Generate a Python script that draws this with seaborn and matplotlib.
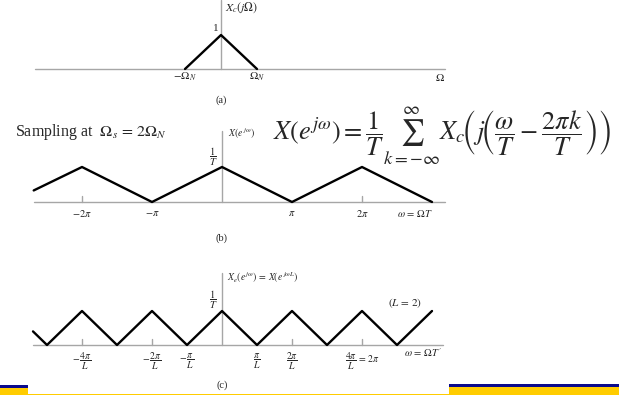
import matplotlib
matplotlib.use("Agg")
import matplotlib.pyplot as plt
from matplotlib.patches import Rectangle
import seaborn as sns

# Spectrum vertices (frequency in units of Omega_N for (a), in units of pi for (b), (c))
omega_a = [-1, 0, 1]
Xc_a = [0, 1, 0]

omega_b = [-2.69, -2, -1, 0, 1, 2, 3]
X_b = [0.33, 1, 0, 1, 0, 1, 0]

omega_c = [-2.7, -2.5, -2, -1.5, -1, -0.5, 0, 0.5, 1, 1.5, 2, 2.5, 3]
X_c = [0.4, 0, 1, 0, 1, 0, 1, 0, 1, 0, 1, 0, 1]

ticks_a = [-1, 1]
ticklabels_a = [r"$-\Omega_N$", r"$\Omega_N$"]

ticks_b = [-2, -1, 1, 2]
ticklabels_b = [r"$-2\pi$", r"$-\pi$", r"$\pi$", r"$2\pi$"]
marked_b = [-2, 2]

ticks_c = [-2, -1, -0.5, 0.5, 1, 2]
ticklabels_c = [r"$-\,\dfrac{4\pi}{L}$", r"$-\,\dfrac{2\pi}{L}$", r"$-\,\dfrac{\pi}{L}$",
                r"$\dfrac{\pi}{L}$", r"$\dfrac{2\pi}{L}$", r"$\dfrac{4\pi}{L}\,=\,2\pi$"]
marked_c = [-2, -1, 1, 2]

sns.set_theme(style="white")
plt.rcParams["font.family"] = ["Liberation Serif", "DejaVu Serif"]
plt.rcParams["mathtext.fontset"] = "stix"

W, H = 619, 395
fig = plt.figure(figsize=(W / 100, H / 100), dpi=100)
fig.patch.set_facecolor("white")

AXIS_C = "#a6a6a6"
LW = 1.7


def panel(x0, sx, y0, sy, top, bottom):
    """Axes over a horizontal band; data origin at pixel (x0, y0), sx/sy px per unit."""
    ax = fig.add_axes([0, 1 - bottom / H, 1, (bottom - top) / H])
    ax.set_xlim(-x0 / sx, (W - x0) / sx)
    ax.set_ylim((y0 - bottom) / sy, (y0 - top) / sy)
    ax.axis("off")
    px = lambda p: (p - x0) / sx
    py = lambda p: (y0 - p) / sy
    return ax, px, py


def frame(ax, px, py, xl, xr, ytop, y0):
    ax.plot([px(xl), px(xr)], [0, 0], color=AXIS_C, lw=1.0, zorder=1)
    ax.plot([0, 0], [py(ytop), py(y0)], color=AXIS_C, lw=1.0, zorder=1)


# ---------- (a) continuous-time spectrum ----------
ax, px, py = panel(221, 36, 69, 34, 0, 110)
frame(ax, px, py, 35, 445, 0, 69)
sns.lineplot(x=omega_a, y=Xc_a, ax=ax, color="black", linewidth=LW, sort=False)
for t, lab in zip(ticks_a, ticklabels_a):
    ax.text(t, -0.24, lab, ha="center", va="center", fontsize=8)
ax.text(px(440), -0.24, r"$\Omega$", ha="center", va="center", fontsize=8)
ax.text(-0.08, 1.06, "1", ha="right", va="bottom", fontsize=8)
ax.text(0.12, py(8), r"$X_c(j\Omega)$", ha="left", va="center", fontsize=8.5)
ax.text(0, py(100), "(a)", ha="center", va="center", fontsize=7.5)

# ---------- (b) sampled spectrum ----------
ax, px, py = panel(222, 70, 202, 35, 110, 250)
frame(ax, px, py, 34, 445, 131, 202)
sns.lineplot(x=omega_b, y=X_b, ax=ax, color="black", linewidth=LW, sort=False)
for t in marked_b:
    ax.plot([t, t], [0, 0.17], color=AXIS_C, lw=1.0, zorder=1)
for t, lab in zip(ticks_b, ticklabels_b):
    ax.text(t, -0.32, lab, ha="center", va="center", fontsize=7.5)
ax.text(px(415), -0.32, r"$\omega\,=\,\Omega T$", ha="center", va="center", fontsize=7.5)
ax.text(px(213), py(157), r"$\dfrac{1}{T}$", ha="center", va="center", fontsize=7.5)
ax.text(px(228), py(134), r"$X(e^{\,j\omega})$", ha="left", va="center", fontsize=7)
ax.text(0, py(238), "(b)", ha="center", va="center", fontsize=7.5)

fig.text(15 / W, 1 - 132 / H, r"Sampling at  $\Omega_s\,=\,2\Omega_N$",
         ha="left", va="center", fontsize=11.5)
fig.text(273 / W, 1 - 136 / H,
         r"$X(e^{j\omega})=\dfrac{1}{T}\sum_{k=-\infty}^{\infty}X_c\!\left(j\!\left(\dfrac{\omega}{T}-\dfrac{2\pi k}{T}\right)\right)$",
         ha="left", va="center", fontsize=19)

# ---------- (c) expanded-sequence spectrum ----------
ax, px, py = panel(222, 70, 345, 34, 255, 395)
frame(ax, px, py, 33, 443, 273, 345)
sns.lineplot(x=omega_c, y=X_c, ax=ax, color="black", linewidth=LW, sort=False)
for t in marked_c:
    ax.plot([t, t], [0, 0.17], color=AXIS_C, lw=1.0, zorder=1)
for t, lab in zip(ticks_c, ticklabels_c):
    ax.text(t, py(361), lab, ha="center", va="center", fontsize=7)
ax.text(px(423), py(353), r"$\omega\,=\,\Omega T'$", ha="center", va="center", fontsize=7.5)
ax.text(px(405), py(303), r"$(L\,=\,2)$", ha="center", va="center", fontsize=8)
ax.text(px(213), py(300), r"$\dfrac{1}{T}$", ha="center", va="center", fontsize=7.5)
ax.text(px(227), py(278), r"$X_e(e^{\,j\omega})\,=\,X(e^{\,j\omega L})$",
        ha="left", va="center", fontsize=7)
ax.text(0, py(385), "(c)", ha="center", va="center", fontsize=7.5)

# ---------- slide footer bars (pixel coordinates) ----------
fax = fig.add_axes([0, 0, 1, 1], zorder=10)
fax.set_xlim(0, W)
fax.set_ylim(H, 0)
fax.axis("off")
fax.patch.set_alpha(0)
for (x, y, w, h, c) in [(0, 385, 28, 3, "#0a0a8c"), (0, 388, 28, 7, "#ffcc00"),
                        (449, 384, 170, 3, "#0a0a8c"), (449, 387, 170, 8, "#ffcc00"),
                        (0, 393.5, 619, 1.5, "#ffcc00")]:
    fax.add_patch(Rectangle((x, y), w, h, facecolor=c, edgecolor="none", lw=0))

fig.savefig("out.png", dpi=100)
